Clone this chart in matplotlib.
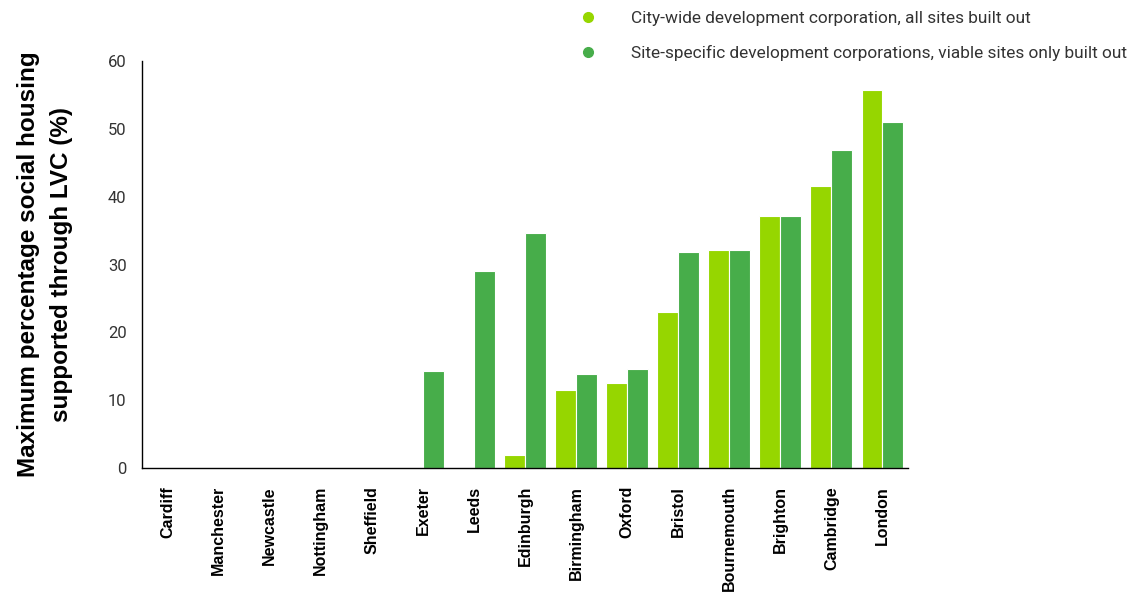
import matplotlib
matplotlib.use("Agg")
import matplotlib.pyplot as plt
from matplotlib.lines import Line2D
import numpy as np

cities = ["Cardiff", "Manchester", "Newcastle", "Nottingham", "Sheffield", "Exeter",
          "Leeds", "Edinburgh", "Birmingham", "Oxford", "Bristol", "Bournemouth",
          "Brighton", "Cambridge", "London"]
city_wide = [0, 0, 0, 0, 0, 0, 0, 1.9, 11.5, 12.5, 23.0, 32.1, 37.1, 41.5, 55.7]
site_specific = [0, 0, 0, 0, 0, 14.3, 29.1, 34.6, 13.8, 14.6, 31.9, 32.1, 37.1, 46.9, 51.0]
series_labels = ["City-wide development corporation, all sites built out",
                 "Site-specific development corporations, viable sites only built out"]
y_ticks = [0, 10, 20, 30, 40, 50, 60]
y_label = "Maximum percentage social housing\nsupported through LVC (%)"

light_green = "#96D600"
dark_green = "#47AD4A"

fig = plt.figure(figsize=(11.37, 5.95), dpi=100)
ax = fig.add_axes([0.1249, 0.2134, 0.6737, 0.6841])

x = np.arange(len(cities))
w = 0.41
ax.bar(x - w / 2, city_wide, width=w, color=light_green, edgecolor="white", linewidth=0.8)
ax.bar(x + w / 2, site_specific, width=w, color=dark_green, edgecolor="white", linewidth=0.8)

ax.set_xlim(-0.5, len(cities) - 0.5)
ax.set_ylim(0, 60)
ax.set_yticks(y_ticks)
ax.set_yticklabels([str(v) for v in y_ticks], family="Roboto", fontsize=12, color="#333333")
ax.set_xticks(x)
ax.set_xticklabels(cities, rotation=90, va="top", ha="center",
                   family="Liberation Sans", fontweight="bold", fontsize=11.5)
ax.tick_params(axis="x", length=0, pad=13)
ax.tick_params(axis="y", length=0, pad=11)

for s in ["top", "right"]:
    ax.spines[s].set_visible(False)
ax.spines["left"].set_linewidth(1.0)
ax.spines["bottom"].set_linewidth(1.0)

ax.set_ylabel(y_label, family="Liberation Sans", fontweight="bold", fontsize=17.5,
              linespacing=1.55, labelpad=25)

handles = [Line2D([], [], marker="o", linestyle="none", color=light_green, markersize=7),
           Line2D([], [], marker="o", linestyle="none", color=dark_green, markersize=7)]
fig.legend(handles, series_labels, loc="upper left", bbox_to_anchor=(0.496, 1.008),
           frameon=False, prop={"family": "Roboto", "size": 12.4}, labelcolor="#333333",
           handletextpad=2.0, labelspacing=1.1, handlelength=1.0)

fig.savefig("out.png", dpi=100)
